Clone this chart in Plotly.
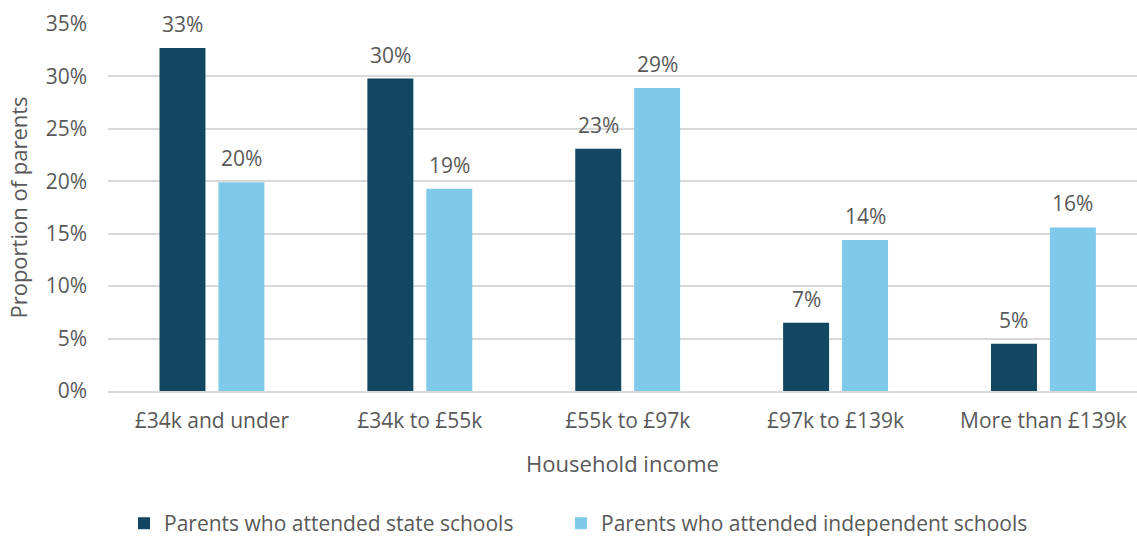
import math
import plotly.graph_objects as go

categories = ["£34k and under", "£34k to £55k", "£55k to £97k", "£97k to £139k", "More than £139k"]
state_schools = [32.7, 29.8, 23.1, 6.5, 4.5]
independent_schools = [19.9, 19.3, 28.9, 14.4, 15.6]
series_names = ["Parents who attended state schools", "Parents who attended independent schools"]
y_ticks = [0, 5, 10, 15, 20, 25, 30, 35]

FONT = "Open Sans, Noto Sans, sans-serif"
GREY = "#595959"
COLORS = ["#114760", "#7FCAEA"]
BARGAP = 0.433
BARGROUPGAP = 0.22
ML, MR, MT, MB = 108, 0, 24, 151
W, H = 1137, 542
X_RANGE = [-0.5, 4.45]


def pct_label(v):
    # round half up, as spreadsheet percentage labels do
    return f"{math.floor(v + 0.5):d}%"


fig = go.Figure()
legend_ids = ["legend", "legend2"]
for name, vals, color, lg in zip(series_names, [state_schools, independent_schools], COLORS, legend_ids):
    fig.add_trace(go.Bar(
        x=categories, y=vals, name=name, legend=lg,
        marker=dict(color=color, line=dict(width=0)),
    ))

# value labels above each bar, offset to the bar's slot within its group
px_per_cat = (W - ML - MR) / (X_RANGE[1] - X_RANGE[0])
slot = (1 - BARGAP) * px_per_cat / 2
for i, vals in enumerate([state_schools, independent_schools]):
    shift = (i - 0.5) * slot
    for cat, v in zip(categories, vals):
        fig.add_annotation(
            x=cat, y=v, xref="x", yref="y", text=pct_label(v),
            showarrow=False, xanchor="center", yanchor="bottom",
            xshift=shift, yshift=8,
            font=dict(family=FONT, size=21, color=GREY),
        )

legend_common = dict(orientation="h", xref="container", xanchor="left",
                     y=0.034, yanchor="middle", yref="container",
                     font=dict(size=21, color=GREY), itemwidth=30,
                     bgcolor="rgba(0,0,0,0)")

fig.update_layout(
    width=W, height=H,
    margin=dict(l=ML, r=MR, t=MT, b=MB),
    paper_bgcolor="white", plot_bgcolor="white",
    barmode="group", bargap=BARGAP, bargroupgap=BARGROUPGAP,
    font=dict(family=FONT, size=20, color=GREY),
    showlegend=True,
    legend=dict(x=124 / W, **legend_common),
    legend2=dict(x=561 / W, **legend_common),
    xaxis=dict(
        title=dict(text="Household income", font=dict(size=22, color=GREY), standoff=23),
        tickfont=dict(size=21, color=GREY), showline=True, linecolor="#d9d9d9", linewidth=2,
        ticks="", range=X_RANGE, ticklabelstandoff=10,
    ),
    yaxis=dict(
        title=dict(text="Proportion of parents", font=dict(size=22, color=GREY), standoff=11),
        range=[0, 35], tickvals=y_ticks, ticktext=[f"{t}%" for t in y_ticks],
        tickfont=dict(size=21, color=GREY), gridcolor="#d9d9d9", gridwidth=2,
        zeroline=False, ticks="", ticklen=0, ticklabelstandoff=20,
    ),
)

fig.write_html("out.html")
